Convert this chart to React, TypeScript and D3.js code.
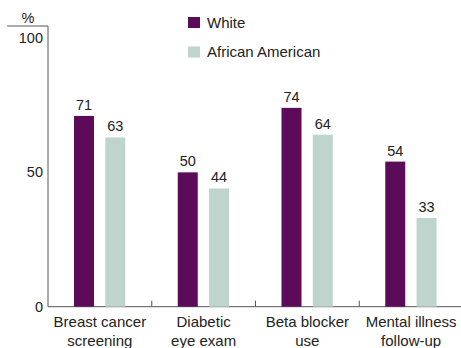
import React from "react";
import * as d3 from "d3";

const categories: string[][] = [
  ["Breast cancer", "screening"],
  ["Diabetic", "eye exam"],
  ["Beta blocker", "use"],
  ["Mental illness", "follow-up"],
];
const seriesNames = ["White", "African American"];
const whiteValues = [71, 50, 74, 54];
const africanAmericanValues = [63, 44, 64, 33];
const yTicks = [0, 50, 100];

const colors = ["#5c0b59", "#bed4cd"];
const font = "Liberation Sans, Arial, sans-serif";

export default function App() {
  const width = 461;
  const height = 348;
  const x0 = 48;
  const x1 = 463;
  const yBase = 306.7;
  const yTop = 38;

  const x = d3
    .scaleBand<number>()
    .domain(categories.map((_, i) => i))
    .range([x0, x1])
    .paddingInner(0)
    .paddingOuter(0);
  const y = d3.scaleLinear().domain([0, 100]).range([yBase, yTop]);

  const barW = 20;
  const offsets = [26, 57.3];
  const series = [whiteValues, africanAmericanValues];

  return (
    <svg
      width={width}
      height={height}
      style={{ position: "absolute", left: 0, top: 0, background: "#fff" }}
      fontFamily={font}
    >
      <rect width={width} height={height} fill="#fff" />
      {/* axes */}
      <line x1={7} x2={x0} y1={26} y2={26} stroke="#555" strokeWidth={1} />
      <line x1={x0} x2={x0} y1={26} y2={yBase} stroke="#555" strokeWidth={1} />
      <line x1={x0} x2={x1} y1={yBase} y2={yBase} stroke="#555" strokeWidth={1} />
      <text x={28} y={23} fontSize={14.5} textAnchor="middle" fill="#222">%</text>
      {yTicks.map((t) => (
        <text key={t} x={43} y={y(t) + 5} fontSize={14.5} textAnchor="end" fill="#222">
          {t}
        </text>
      ))}
      {categories.slice(1).map((_, i) => {
        const xi = x(i + 1)!;
        return <line key={i} x1={xi} x2={xi} y1={yBase - 6} y2={yBase} stroke="#555" />;
      })}
      {/* bars */}
      {series.map((vals, s) =>
        vals.map((v, i) => {
          const bx = x(i)! + offsets[s];
          return (
            <g key={`${s}-${i}`}>
              <rect x={bx} y={y(v)} width={barW} height={yBase - y(v)} fill={colors[s]} />
              <text x={bx + barW / 2} y={y(v) - 6} fontSize={14.5} textAnchor="middle" fill="#222">
                {v}
              </text>
            </g>
          );
        })
      )}
      {/* category labels */}
      {categories.map((lines, i) => (
        <text key={i} x={x(i)! + x.bandwidth() / 2} fontSize={15} textAnchor="middle" fill="#222">
          {lines.map((l, j) => (
            <tspan key={j} x={x(i)! + x.bandwidth() / 2} y={327 + j * 18.5}>
              {l}
            </tspan>
          ))}
        </text>
      ))}
      {/* legend */}
      {seriesNames.map((name, s) => (
        <g key={name} transform={`translate(188, ${17 + s * 29.5})`}>
          <rect width={12} height={11} fill={colors[s]} />
          <text x={19} y={10.5} fontSize={15} fill="#222">{name}</text>
        </g>
      ))}
    </svg>
  );
}
